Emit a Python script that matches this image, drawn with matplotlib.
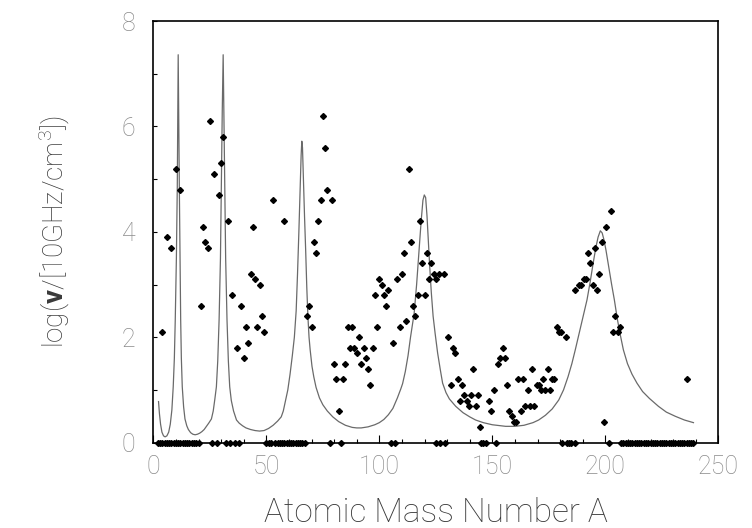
import matplotlib
matplotlib.use("Agg")
import matplotlib.pyplot as plt
from matplotlib.ticker import MultipleLocator

# Measured points (mass number A, log nu)
mass_A = [4, 6, 8, 10, 12, 21, 22, 23, 24, 25, 27, 29, 30, 31, 33, 35, 37, 39, 40, 41,
          42, 43, 44, 45, 46, 47, 48, 49, 53, 58, 68, 69, 70, 71, 72, 73, 74, 75, 76, 77,
          79, 80, 81, 82, 84, 85, 86, 87, 88, 89, 90, 91, 92, 93, 94, 95, 96, 97, 98, 99,
          100, 101, 102, 103, 104, 106, 108, 109, 110, 111, 112, 113, 114, 115, 116, 117,
          118, 119, 120, 121, 122, 123, 124, 125, 126.6, 128.7,
          130.6, 131.6, 132.6, 133.7, 134.7, 135.6, 136.6, 137.6, 138.7, 139.7, 140.6, 141.6,
          142.6, 143.7, 144.6, 148.5, 149.6, 150.6, 152.5, 153.5, 154.6, 155.6, 156.5, 157.5,
          158.5, 159.6, 160.6, 161.5, 162.5, 163.5, 164.6, 165.6, 166.5, 167.5, 168.5, 169.6,
          170.6, 171.5, 172.5, 173.5, 174.6, 175.6, 176.5, 177.5, 178.5, 179.6, 180.6, 182.5,
          186.5, 188.4, 189.4, 190.4, 191.3, 192.4, 193.4, 194.4, 195.3, 196.3, 197.4, 198.4,
          199.4, 200.4, 202.4, 203.4, 204.4, 205.4, 206.3, 236.3]
log_nu = [2.1, 3.9, 3.7, 5.2, 4.8, 2.6, 4.1, 3.8, 3.7, 6.1, 5.1, 4.7, 5.3, 5.8, 4.2, 2.8, 1.8, 2.6, 1.6, 2.2,
          1.9, 3.2, 4.1, 3.1, 2.2, 3.0, 2.4, 2.1, 4.6, 4.2, 2.4, 2.6, 2.2, 3.8, 3.6, 4.2, 4.6, 6.2, 5.6, 4.8,
          4.6, 1.5, 1.2, 0.6, 1.2, 1.5, 2.2, 1.8, 2.2, 1.8, 1.7, 2.0, 1.5, 1.8, 1.6, 1.4, 1.1, 1.8, 2.8, 2.2,
          3.1, 3.0, 2.8, 2.6, 2.9, 1.9, 3.1, 2.2, 3.2, 3.6, 2.3, 5.2, 3.8, 2.6, 2.4, 2.8,
          4.2, 3.4, 2.8, 3.6, 3.1, 3.4, 3.2, 3.1, 3.2, 3.2,
          2.0, 1.1, 1.8, 1.7, 1.2, 0.8, 1.1, 0.9, 0.8, 0.7, 0.9, 1.4,
          0.7, 0.9, 0.3, 0.8, 0.6, 1.0, 1.5, 1.6, 1.8, 1.6, 1.1, 0.6,
          0.5, 0.4, 0.4, 1.2, 0.6, 1.2, 0.7, 1.0, 0.7, 1.4, 0.7, 1.1,
          1.1, 1.0, 1.2, 1.0, 1.4, 1.0, 1.2, 1.2, 2.2, 2.1, 2.1, 2.0,
          2.9, 3.0, 3.0, 3.1, 3.1, 3.6, 3.4, 3.0, 3.7, 2.9, 3.2, 3.8,
          0.4, 4.1, 4.4, 2.1, 2.4, 2.1, 2.2, 1.2]

# Points lying on the axis (value 0)
zero_A = [2, 3, 4, 5, 6, 7, 8, 9, 10, 11, 12, 13, 14, 15, 16, 17, 18, 19, 20,
          26, 28, 32, 34, 36, 38,
          50, 51, 52, 54, 55, 56, 57, 58, 59, 60, 61, 62, 63, 64, 65, 66, 67,
          78, 83, 105, 107, 125, 127, 129, 145, 146, 147, 151.5,
          181, 183, 184, 185, 186.5, 201.5,
          207, 208, 209, 210, 211, 212, 213, 214, 215, 216, 217, 218, 219, 220, 221, 222, 223,
          224, 225, 226, 227, 228, 229, 230, 231, 232, 233, 234, 235, 236, 237, 238, 239]
zero_val = [0.0] * len(zero_A)

# Theoretical curve
curve_A = [2.3, 2.7, 3.2, 3.8, 4.5, 5.2, 6, 6.8, 7.5, 8.2, 8.8, 9.3, 9.7, 10.2, 10.6, 10.85, 11.0,
           11.2, 11.5, 11.8, 12.1, 12.4, 12.8, 13.4, 14, 14.8, 15.5, 16.5, 17.5, 18.5, 19.5,
           20.5, 21.5, 22.5, 23.5, 24.5, 25.7, 26.5, 27.2, 27.9, 28.5, 29.1, 29.7, 30.1, 30.5,
           30.9, 31.2, 31.6, 32.0, 32.6, 33.2, 33.8, 34.5, 35.5, 36.8, 38, 39.5, 41, 43, 45, 47,
           49, 51, 53, 55, 56.6, 57.5, 58.5, 59.5, 60.5, 61.5, 62.4, 63.2, 63.8, 64.4, 65, 65.4,
           65.7, 66.0, 66.4, 66.9, 67.4, 67.9, 68.4, 68.9, 69.4, 70.2, 71, 72, 73.5, 75, 77,
           79.4, 82, 85, 88, 90, 92, 95, 98, 100, 102, 104, 106, 108, 109.5, 110.3, 111.5,
           112.7, 113.8, 115.4, 116.5, 117.6, 118.5, 119.3, 119.9, 120.5, 121.1, 121.7, 122.3,
           123, 123.8, 124.7, 125.8, 127, 128, 129.5, 131, 133.8, 137, 140, 142.6, 146, 150,
           155.9, 160, 164, 168, 170.5, 173.5, 176.5, 179.4, 181.5, 183.5, 185.2, 186.7, 188.3,
           190, 191.9, 193.3, 194.6, 195.8, 196.8, 197.8, 198.6, 199.4, 200.3, 201.5, 202.8,
           204, 205.3, 206.6, 208, 209.8, 211.8, 214, 216.5, 219.5, 223.5, 227, 231, 235, 239]
curve_val = [0.78, 0.55, 0.35, 0.2, 0.13, 0.11, 0.13, 0.2, 0.35, 0.62, 1.06, 1.6, 2.33, 3.5, 4.86,
             6.3, 7.36, 6.3, 4.86, 3.5, 2.33, 1.6, 1.06, 0.68, 0.45, 0.32, 0.25, 0.19, 0.16, 0.15,
             0.16, 0.18, 0.21, 0.25, 0.31, 0.37, 0.45, 0.6, 0.82, 1.06, 1.55, 2.33, 3.5, 4.86, 6.3,
             7.36, 6.3, 4.86, 3.5, 2.33, 1.55, 1.06, 0.8, 0.6, 0.43, 0.37, 0.32, 0.28, 0.25, 0.23,
             0.22, 0.23, 0.27, 0.33, 0.41, 0.49, 0.6, 0.8, 1.0, 1.3, 1.65, 2.0, 2.5, 3.2, 4.0, 4.9,
             5.45, 5.72, 5.6, 5.0, 4.3, 3.66, 2.95, 2.39, 2.0, 1.76, 1.45, 1.25, 1.05, 0.85, 0.72,
             0.6, 0.49, 0.4, 0.33, 0.29, 0.28, 0.28, 0.3, 0.34, 0.38, 0.44, 0.53, 0.65, 0.85, 1.02,
             1.12, 1.35, 1.65, 2.0, 2.45, 3.0, 3.66, 4.2, 4.6, 4.7, 4.65, 4.3, 3.8, 3.34, 2.85, 2.4,
             2.07, 1.7, 1.38, 1.13, 0.95, 0.83, 0.69, 0.57, 0.49, 0.43, 0.38, 0.34, 0.31, 0.31,
             0.33, 0.38, 0.43, 0.52, 0.64, 0.81, 1.0, 1.25, 1.5, 1.76, 2.05, 2.35, 2.71, 3.05, 3.4,
             3.7, 3.9, 4.02, 3.98, 3.85, 3.65, 3.34, 3.0, 2.71, 2.35, 2.05, 1.76, 1.5, 1.3, 1.13,
             0.97, 0.84, 0.69, 0.58, 0.5, 0.43, 0.38]

FONT = 'Roboto'
plt.rcParams['font.family'] = [FONT, 'DejaVu Sans']
plt.rcParams['mathtext.fontset'] = 'custom'
plt.rcParams['mathtext.rm'] = FONT + ':light'
plt.rcParams['mathtext.bf'] = FONT + ':bold'

fig = plt.figure(figsize=(7.52, 5.28), dpi=100)
ax = fig.add_axes([0.2039, 0.1616, 0.7513, 0.7986])

ax.plot(curve_A, curve_val, color='#6a6a6a', lw=0.9, zorder=2)
ax.plot(mass_A, log_nu, linestyle='none', marker='D', ms=3.0, color='black', zorder=3)
ax.plot(zero_A, zero_val, linestyle='none', marker='D', ms=3.0, color='black', zorder=3, clip_on=False)

ax.set_xlim(0, 250)
ax.set_ylim(0, 8)
ax.xaxis.set_major_locator(MultipleLocator(50))
ax.xaxis.set_minor_locator(MultipleLocator(10))
ax.yaxis.set_major_locator(MultipleLocator(2))
ax.yaxis.set_minor_locator(MultipleLocator(1))
ax.tick_params(axis='both', which='both', direction='in', top=False, right=False,
               labelsize=18, labelcolor='#8a8a8a', width=0.8)
ax.tick_params(axis='x', which='major', length=6, pad=9)
ax.tick_params(axis='x', which='minor', length=3)
ax.tick_params(axis='y', which='both', length=3, pad=13)
for lab in ax.get_xticklabels() + ax.get_yticklabels():
    lab.set_fontweight('light')
for s in ax.spines.values():
    s.set_linewidth(1.2)

ax.set_xlabel('Atomic Mass Number A', fontsize=24, color='#3a3a3a', fontweight='light', labelpad=13)
ax.set_ylabel(r'log($\mathbf{v}$/[10GHz/cm$^{3}$])', fontsize=20, color='#3a3a3a',
              fontweight='light', labelpad=36)

fig.savefig('out.png', dpi=100)
